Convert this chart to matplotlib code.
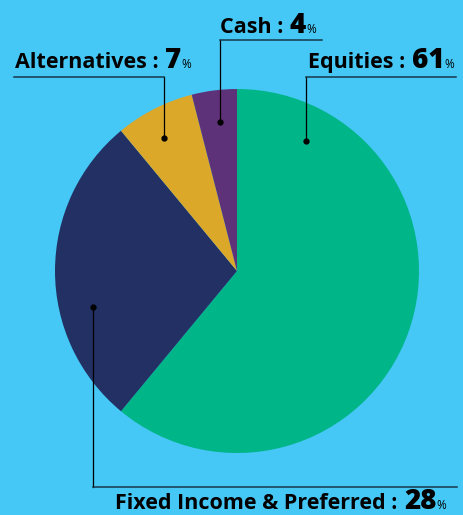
import matplotlib
matplotlib.use("Agg")
import matplotlib.pyplot as plt

W, H = 463, 515
BG = "#45c8f5"

labels = ["Equities", "Fixed Income & Preferred", "Alternatives", "Cash"]
values = [61, 28, 7, 4]
colors = ["#00b588", "#223064", "#dba82a", "#5e3278"]

plt.rcParams["font.family"] = ["Open Sans", "DejaVu Sans"]

fig = plt.figure(figsize=(W / 100, H / 100), dpi=100, facecolor=BG)
ax = fig.add_axes([0, 0, 1, 1])


def Y(y):
    # image pixel row -> data y
    return H - y


ax.pie(values, colors=colors, startangle=90, counterclock=False,
       center=(237, Y(271)), radius=182, frame=True)
ax.set_xlim(0, W)
ax.set_ylim(0, H)
ax.set_aspect("auto")
ax.axis("off")

# leader lines: dot, elbow row, horizontal line span, text start, text baseline
leaders = [
    dict(dot=(306, 141), ly=77, hx=(306, 456), tx=308, ty=68),
    dict(dot=(93, 307), ly=487, hx=(93, 457), tx=115, ty=509),
    dict(dot=(164, 138), ly=77, hx=(14, 164), tx=15, ty=68),
    dict(dot=(220, 122), ly=40, hx=(220, 322), tx=220, ty=33),
]

fig.canvas.draw()
renderer = fig.canvas.get_renderer()

for lab, val, ld in zip(labels, values, leaders):
    dx, dy = ld["dot"]
    ax.plot([dx], [Y(dy)], "o", color="black", ms=3.5, zorder=5)
    ax.plot([dx, dx], [Y(dy), Y(ld["ly"])], color="black", lw=0.9, zorder=4)
    ax.plot(ld["hx"], [Y(ld["ly"])] * 2, color="#16384a", lw=1.1, zorder=4)

    x = ld["tx"]
    yb = Y(ld["ty"])
    pieces = [(lab + " : ", 15.5, "bold", 0), (str(val), 20, "heavy", 1),
              ("%", 8.5, "normal", 0)]
    for txt, size, weight, gap in pieces:
        x += gap
        t = ax.text(x, yb, txt, fontsize=size, fontweight=weight,
                    color="black", va="baseline", ha="left")
        bb = t.get_window_extent(renderer=renderer)
        x = x + bb.width

fig.savefig("out.png", dpi=100, facecolor=BG)
